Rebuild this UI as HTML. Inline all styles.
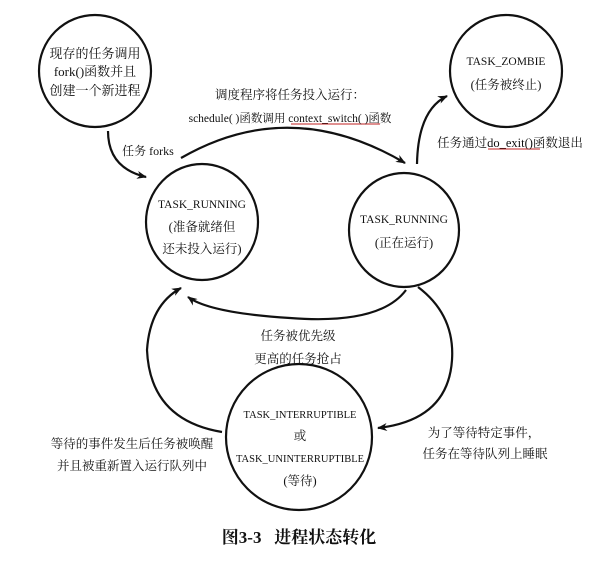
<!DOCTYPE html>
<html><head><meta charset="utf-8"><style>
html,body{margin:0;padding:0;background:#fff;}
svg{display:block;}
text{font-family:"Liberation Serif","Noto Serif CJK SC","Noto Sans CJK SC",serif;fill:#111;}
</style></head><body>
<svg width="603" height="561" viewBox="0 0 603 561" xmlns="http://www.w3.org/2000/svg">
<defs><marker id="a" markerWidth="10" markerHeight="8" refX="9" refY="4" orient="auto" markerUnits="userSpaceOnUse"><path d="M0,0 L10,4 L0,8 L3,4 Z" fill="#111"/></marker></defs>
<g fill="none" stroke="#111" stroke-width="2.2">
<ellipse cx="95" cy="71" rx="56" ry="56"/>
<ellipse cx="202" cy="222" rx="56" ry="58"/>
<ellipse cx="404" cy="230" rx="55" ry="57"/>
<ellipse cx="506" cy="71" rx="56" ry="56"/>
<ellipse cx="299" cy="437" rx="73" ry="73"/>
<path d="M108,131 Q108,168 146,177" marker-end="url(#a)"/>
<path d="M181,158 Q290,95 405,163" marker-end="url(#a)"/>
<path d="M417,164 Q418,110 447,96" marker-end="url(#a)"/>
<path d="M406,290 Q380,325 290,318 Q210,313 188,297" marker-end="url(#a)"/>
<path d="M222,432 Q150,420 147,350 Q150,305 181,288" marker-end="url(#a)"/>
<path d="M418,287 Q455,315 452,360 Q448,420 378,428" marker-end="url(#a)"/>
</g>
<g stroke="#c02020" stroke-width="1">
<line x1="291" y1="124" x2="380" y2="124"/>
<line x1="488" y1="149" x2="540" y2="149"/>
</g>
<g font-size="12.5" text-anchor="middle">
<text x="95" y="58" font-size="13">现存的任务调用</text>
<text x="95" y="76" font-size="13">fork()函数并且</text>
<text x="95" y="95" font-size="13">创建一个新进程</text>
<text x="290" y="99">调度程序将任务投入运行：</text>
<text x="290" y="122" font-size="11.5">schedule( )函数调用 context_switch( )函数</text>
<text x="148" y="155" font-size="12">任务 forks</text>
<text x="202" y="208" font-size="11.5">TASK_RUNNING</text>
<text x="202" y="231">(准备就绪但</text>
<text x="202" y="253">还未投入运行)</text>
<text x="404" y="223" font-size="11.5">TASK_RUNNING</text>
<text x="404" y="247">(正在运行)</text>
<text x="506" y="65" font-size="11.5">TASK_ZOMBIE</text>
<text x="506" y="89">(任务被终止)</text>
<text x="510" y="147">任务通过do_exit()函数退出</text>
<text x="298" y="340">任务被优先级</text>
<text x="298" y="363">更高的任务抢占</text>
<text x="300" y="418" font-size="10.5">TASK_INTERRUPTIBLE</text>
<text x="300" y="440">或</text>
<text x="300" y="462" font-size="10.5">TASK_UNINTERRUPTIBLE</text>
<text x="300" y="485">(等待)</text>
<text x="132" y="448">等待的事件发生后任务被唤醒</text>
<text x="132" y="470">并且被重新置入运行队列中</text>
<text x="484" y="437">为了等待特定事件，</text>
<text x="485" y="458">任务在等待队列上睡眠</text>
<text x="299" y="543" font-size="17" font-weight="bold" xml:space="preserve">图3-3   进程状态转化</text>
</g>
</svg>
</body></html>
